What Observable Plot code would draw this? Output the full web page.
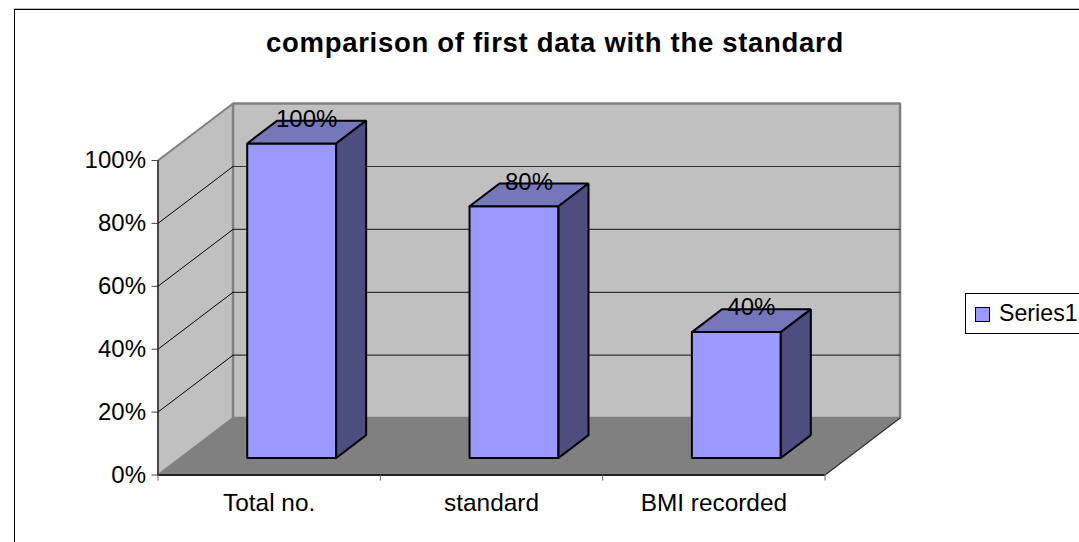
<!DOCTYPE html>
<html>
<head>
<meta charset="utf-8">
<script src="https://cdn.jsdelivr.net/npm/d3@7"></script>
<script src="https://cdn.jsdelivr.net/npm/@observablehq/plot@0.6"></script>
<style>
html,body{margin:0;padding:0;background:#fff;overflow:hidden}
#page{position:relative;width:1079px;height:542px;overflow:hidden;font-family:"Liberation Sans",Arial,sans-serif;color:#000}
#frame{position:absolute;left:14px;top:9px;width:1100px;height:600px;border-left:1px solid #000;border-top:1px solid #000;box-shadow:0 -1px 0 #bbb}
#title{position:absolute;left:15px;top:27px;width:1080px;text-align:center;font-weight:bold;font-size:27.5px;line-height:32px;letter-spacing:.7px}
#legend{position:absolute;left:965px;top:293px;width:140px;height:39px;border:1px solid #000;background:#fff}
#swatch{position:absolute;left:9px;top:13px;width:13px;height:13px;background:#9999ff;border:1.5px solid #000}
#ltext{position:absolute;left:33px;top:6px;font-size:23.2px;line-height:26px;white-space:nowrap}
#chart{position:absolute;left:0;top:0}
</style>
</head>
<body>
<div id="page">
  <div id="frame"></div>
  <div id="chart"></div>
  <div id="title">comparison of first data with the standard</div>
  <div id="legend"><div id="swatch"></div><div id="ltext">Series1</div></div>
</div>
<script>
const categories = ["Total no.", "standard", "BMI recorded"];
const values = [100, 80, 40];
const yTicks = [0, 20, 40, 60, 80, 100];
const seriesName = "Series1";

// oblique 3D: one unit of depth shifts by these amounts in scale units
const depthX = 0.3375, depthY = 18.1;
const barWidth = 0.4, depthFront = 0.3, depthBack = 0.7;
const xMax = categories.length, yMax = 100;

const pt = (id, cat, d, v) => ({id, x: cat + d * depthX, y: v + d * depthY});
const poly = (id, corners) => [...corners, corners[0]].map(([c, d, v]) => pt(id, c, d, v));

const leftWall = poly("left", [[0,0,0],[0,1,0],[0,1,yMax],[0,0,yMax]]);
const backWall = poly("back", [[0,1,0],[xMax,1,0],[xMax,1,yMax],[0,1,yMax]]);
const floor = poly("floor", [[0,0,0],[xMax,0,0],[xMax,1,0],[0,1,0]]);
const backGrid = yTicks.slice(1,-1).flatMap(v => [pt(v,0,1,v), pt(v,xMax,1,v)]);
const leftGrid = yTicks.slice(1,-1).flatMap(v => [pt(v,0,0,v), pt(v,0,1,v)]);

const barFaces = values.map((v,i) => {
  const a = i + 0.5 - barWidth/2, b = i + 0.5 + barWidth/2;
  return {
    front: poly(i, [[a,depthFront,0],[b,depthFront,0],[b,depthFront,v],[a,depthFront,v]]),
    top: poly(i, [[a,depthFront,v],[b,depthFront,v],[b,depthBack,v],[a,depthBack,v]]),
    side: poly(i, [[b,depthFront,0],[b,depthBack,0],[b,depthBack,v],[b,depthFront,v]])
  };
});
const labels = values.map((v,i) => ({...pt(i, i+0.5, 0.5, v), text: v + "%"}));
const axisLabels = categories.map((c,i) => i + 0.5);

const face = (data, fill, stroke, strokeWidth) =>
  Plot.line(data, {x:"x", y:"y", z:"id", fill, stroke, strokeWidth, strokeLinejoin:"miter"});

const chart = Plot.plot({
  width: 1079, height: 542,
  marginLeft: 157.5, marginRight: 254.5, marginTop: 160, marginBottom: 67.5,
  x: {domain:[0,xMax], axis:null},
  y: {domain:[0,yMax], axis:null},
  style: {fontFamily:'"Liberation Sans",Arial,sans-serif', background:"transparent", overflow:"visible", color:"#000"},
  marks: [
    face(leftWall, "#c0c0c0", "#808080", 2),
    face(backWall, "#c0c0c0", "#808080", 2.5),
    face(floor, "#808080", "#808080", 1),
    Plot.line(backGrid, {x:"x", y:"y", z:"id", stroke:"#333", strokeWidth:1.2}),
    Plot.line(leftGrid, {x:"x", y:"y", z:"id", stroke:"#000", strokeWidth:1}),
    // axis lines
    Plot.ruleX([0], {y1:0, y2:yMax, stroke:"#222", strokeWidth:1.2}),
    Plot.ruleY([0], {x1:0, x2:xMax, stroke:"#222", strokeWidth:2}),
    Plot.line([pt("e",xMax,0,0), pt("e",xMax,1,0)], {x:"x", y:"y", stroke:"#333", strokeWidth:1.2}),
    Plot.axisY({ticks:yTicks, tickFormat:d => d + "%", tickSize:6, tickPadding:6, fontSize:24, label:null, stroke:"#444"}),
    Plot.axisX({ticks:[0,1,2,3], text:null, tickSize:6, label:null, stroke:"#666"}),
    Plot.axisX({ticks:axisLabels, tickFormat:d => categories[d-0.5], tickSize:0, tickPadding:19, fontSize:24.4, label:null}),
    ...barFaces.flatMap(f => [
      face(f.front, "#9999ff", "#000", 2),
      face(f.top, "#7676bb", "#000", 2),
      face(f.side, "#4d4d80", "#000", 2)
    ]),
    Plot.text(labels, {x:"x", y:"y", text:"text", dy:-13, fontSize:24, fill:"#000"})
  ]
});
document.getElementById("chart").appendChild(chart);
document.getElementById("ltext").textContent = seriesName;
</script>
</body>
</html>
